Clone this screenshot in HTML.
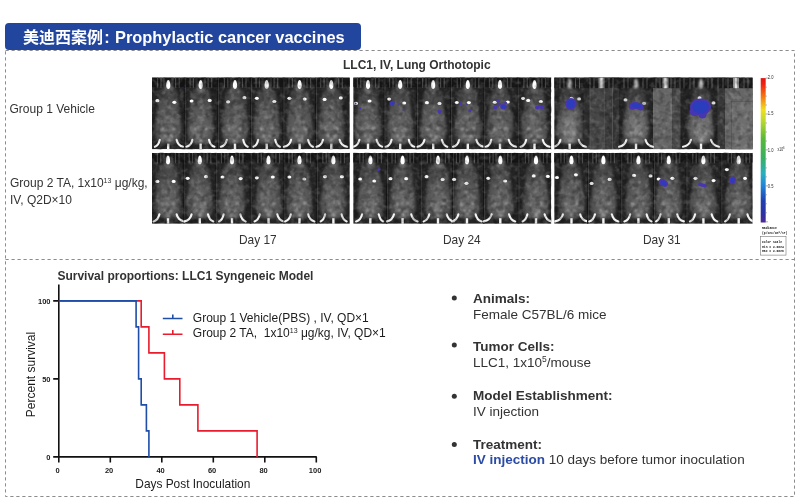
<!DOCTYPE html>
<html><head><meta charset="utf-8">
<style>
html,body{margin:0;padding:0;background:#fff;}
body{width:800px;height:497px;position:relative;overflow:hidden;font-family:"Liberation Sans","Noto Sans CJK SC",sans-serif;color:#333;}
.abs{position:absolute;white-space:nowrap;}
#hdr{position:absolute;left:5px;top:23px;width:355.5px;height:27.2px;background:#22459e;border-radius:4px 4px 4px 4px;color:#fff;font-weight:700;font-size:16px;line-height:27px;}
#hdr span{position:absolute;left:18px;top:0.6px;white-space:nowrap;}
.t12{font-size:12px;line-height:14px;}
.b{font-weight:700;}
.r{font-size:13.5px;line-height:16px;}
</style></head><body>
<svg class="abs" style="left:0;top:0" width="800" height="497" viewBox="0 0 800 497">
<g fill="none" stroke="#8c8c8c" stroke-width="1" stroke-dasharray="3.2 2.8">
<path d="M5.5 50.5H794.5V496.5H5.5Z"/>
<path d="M5.5 259.5H794.5"/>
</g>
</svg>
<div id="hdr"><span>美迪西案例<b style="font-size:16.4px;margin-left:1.2px">:</b><b style="font-size:16.4px;margin-left:.8px"> Prophylactic cancer vaccines</b></span></div>

<svg class="abs" style="left:0;top:0" width="800" height="260" viewBox="0 0 800 260">
<defs>
<filter id="b1" x="-20%" y="-20%" width="140%" height="140%"><feGaussianBlur stdDeviation="1.1"/></filter>
<filter id="b2" x="-50%" y="-50%" width="200%" height="200%"><feGaussianBlur stdDeviation="0.7"/></filter>
<filter id="b4" x="-50%" y="-50%" width="200%" height="200%"><feGaussianBlur stdDeviation="0.95"/></filter>
<filter id="b5" x="-50%" y="-50%" width="200%" height="200%"><feGaussianBlur stdDeviation="0.7"/></filter>
<filter id="b3" x="-50%" y="-50%" width="200%" height="200%"><feGaussianBlur stdDeviation="0.45"/></filter>
<filter id="bb" x="-50%" y="-50%" width="200%" height="200%"><feGaussianBlur stdDeviation="0.5"/></filter>
<filter id="nz" x="0" y="0" width="100%" height="100%"><feTurbulence type="fractalNoise" baseFrequency="0.2" numOctaves="2" seed="3"/><feColorMatrix type="matrix" values="0 0 0 0 1  0 0 0 0 1  0 0 0 0 1  3 0 0 0 -1.35"/></filter>
<filter id="nd" x="0" y="0" width="100%" height="100%"><feTurbulence type="fractalNoise" baseFrequency="0.17" numOctaves="2" seed="11"/><feColorMatrix type="matrix" values="0 0 0 0 0  0 0 0 0 0  0 0 0 0 0  0 3 0 0 -1.35"/></filter>
<radialGradient id="bg" cx="50%" cy="64%" r="58%" fx="50%" fy="74%"><stop offset="0" stop-color="#6a6a6a"/><stop offset="0.5" stop-color="#5a5a5a"/><stop offset="1" stop-color="#434343"/></radialGradient>
<linearGradient id="cb" x1="0" y1="0" x2="0" y2="1">
<stop offset="0" stop-color="#e01515"/><stop offset="0.04" stop-color="#f02010"/><stop offset="0.13" stop-color="#f47a10"/><stop offset="0.22" stop-color="#f0e020"/><stop offset="0.30" stop-color="#b8d830"/><stop offset="0.42" stop-color="#58b838"/><stop offset="0.55" stop-color="#38b060"/><stop offset="0.66" stop-color="#28b0c0"/><stop offset="0.74" stop-color="#2088d8"/><stop offset="0.85" stop-color="#2040b0"/><stop offset="0.95" stop-color="#3030a0"/><stop offset="1" stop-color="#502898"/>
</linearGradient>
<symbol id="m" viewBox="-16.5 0 33 72" overflow="visible">
<path d="M0 10.5C5.5 10.5 9 12.5 9.6 18C10.2 27 11.4 36 12.8 45C13.9 52 13.9 58 11.5 62.5C9 66.3 4 66.8 0 66.8C-4 66.8 -9 66.3 -11.5 62.5C-13.9 58 -13.9 52 -12.8 45C-11.4 36 -10.2 27 -9.6 18C-9 12.5 -5.5 10.5 0 10.5Z" fill="url(#bg)" filter="url(#b1)"/>
<ellipse cx="0" cy="10" rx="4.2" ry="6.2" fill="#808080" opacity=".5" filter="url(#b1)"/>
<path d="M0 2.6C1.4 2.6 2.1 6 2.1 8.4C2.1 10.4 1.2 11.6 0 11.6C-1.2 11.6 -2.1 10.4 -2.1 8.4C-2.1 6 -1.4 2.6 0 2.6Z" fill="#fff" filter="url(#b5)"/>
<g fill="#c4c4c4" filter="url(#b4)" opacity=".7"><circle cx="-5.5" cy="52" r="1.5"/><circle cx="5.5" cy="51.5" r="1.5"/><circle cx="-2.8" cy="58.5" r="1.3"/><circle cx="3" cy="59" r="1.3"/><circle cx="0.3" cy="63" r="1.8"/><circle cx="0.5" cy="30" r="1"/><circle cx="-1" cy="40" r="1"/></g>
</symbol>
<radialGradient id="bg2" cx="50%" cy="68%" r="56%" fx="50%" fy="76%"><stop offset="0" stop-color="#828282"/><stop offset="0.5" stop-color="#6a6a6a"/><stop offset="1" stop-color="#3c3c3c"/></radialGradient>
<symbol id="m2" viewBox="-16.5 0 33 72" overflow="visible">
<path d="M0 9.5C5.5 9.5 9 12.5 9.6 18C10.2 27 11.4 36 12.8 45C13.9 52 13.9 58 11.5 62.5C9 66.3 4 66.8 0 66.8C-4 66.8 -9 66.3 -11.5 62.5C-13.9 58 -13.9 52 -12.8 45C-11.4 36 -10.2 27 -9.6 18C-9 12.5 -5.5 9.5 0 9.5Z" fill="url(#bg2)" filter="url(#b1)"/>
<path d="M0 1C1.5 1 2.2 5 2.2 7.6C2.2 9.8 1.3 11 0 11C-1.3 11 -2.2 9.8 -2.2 7.6C-2.2 5 -1.5 1 0 1Z" fill="#d8d8d8" opacity=".85" filter="url(#b4)"/>
<g fill="#c4c4c4" filter="url(#b4)" opacity=".7"><circle cx="-4.5" cy="56" r="1.4"/><circle cx="4.5" cy="56.5" r="1.4"/><circle cx="0.3" cy="63" r="1.8"/></g>
</symbol>
</defs>
<clipPath id="c1"><rect x="152.0" y="77.4" width="197.8" height="71.8"/></clipPath><g clip-path="url(#c1)"><rect x="152.0" y="77.4" width="197.8" height="71.8" fill="#242424"/><rect x="152.0" y="77.4" width="32.4" height="9.5" fill="#161616"/><rect x="157.0" y="77.4" width="1.2" height="10.5" fill="#484848"/><rect x="160.4" y="77.4" width="1.2" height="10.5" fill="#484848"/><rect x="175.0" y="77.4" width="1.2" height="10.5" fill="#484848"/><rect x="178.6" y="77.4" width="1.2" height="10.5" fill="#484848"/><rect x="162.8" y="77.4" width="2.4" height="9.5" fill="#2c2c2c"/><rect x="171.2" y="77.4" width="2.4" height="9.5" fill="#2c2c2c"/><rect x="184.4" y="77.4" width="33.4" height="9.5" fill="#161616"/><rect x="189.5" y="77.4" width="1.2" height="10.5" fill="#484848"/><rect x="192.9" y="77.4" width="1.2" height="10.5" fill="#484848"/><rect x="207.5" y="77.4" width="1.2" height="10.5" fill="#484848"/><rect x="211.1" y="77.4" width="1.2" height="10.5" fill="#484848"/><rect x="195.3" y="77.4" width="2.4" height="9.5" fill="#2c2c2c"/><rect x="203.7" y="77.4" width="2.4" height="9.5" fill="#2c2c2c"/><rect x="217.8" y="77.4" width="33.0" height="9.5" fill="#161616"/><rect x="223.8" y="77.4" width="1.2" height="10.5" fill="#484848"/><rect x="227.2" y="77.4" width="1.2" height="10.5" fill="#484848"/><rect x="241.8" y="77.4" width="1.2" height="10.5" fill="#484848"/><rect x="245.4" y="77.4" width="1.2" height="10.5" fill="#484848"/><rect x="229.6" y="77.4" width="2.4" height="9.5" fill="#2c2c2c"/><rect x="238.0" y="77.4" width="2.4" height="9.5" fill="#2c2c2c"/><rect x="250.8" y="77.4" width="32.3" height="9.5" fill="#161616"/><rect x="255.5" y="77.4" width="1.2" height="10.5" fill="#484848"/><rect x="258.9" y="77.4" width="1.2" height="10.5" fill="#484848"/><rect x="273.5" y="77.4" width="1.2" height="10.5" fill="#484848"/><rect x="277.1" y="77.4" width="1.2" height="10.5" fill="#484848"/><rect x="261.3" y="77.4" width="2.4" height="9.5" fill="#2c2c2c"/><rect x="269.7" y="77.4" width="2.4" height="9.5" fill="#2c2c2c"/><rect x="283.1" y="77.4" width="32.3" height="9.5" fill="#161616"/><rect x="288.4" y="77.4" width="1.2" height="10.5" fill="#484848"/><rect x="291.8" y="77.4" width="1.2" height="10.5" fill="#484848"/><rect x="306.4" y="77.4" width="1.2" height="10.5" fill="#484848"/><rect x="310.0" y="77.4" width="1.2" height="10.5" fill="#484848"/><rect x="294.2" y="77.4" width="2.4" height="9.5" fill="#2c2c2c"/><rect x="302.6" y="77.4" width="2.4" height="9.5" fill="#2c2c2c"/><rect x="315.5" y="77.4" width="34.3" height="9.5" fill="#161616"/><rect x="320.1" y="77.4" width="1.2" height="10.5" fill="#484848"/><rect x="323.5" y="77.4" width="1.2" height="10.5" fill="#484848"/><rect x="338.1" y="77.4" width="1.2" height="10.5" fill="#484848"/><rect x="341.7" y="77.4" width="1.2" height="10.5" fill="#484848"/><rect x="325.9" y="77.4" width="2.4" height="9.5" fill="#2c2c2c"/><rect x="334.3" y="77.4" width="2.4" height="9.5" fill="#2c2c2c"/><use href="#m" x="150.0" y="77.4" width="36.5" height="71.8" preserveAspectRatio="none"/><ellipse cx="157.4" cy="100.7" rx="2.0" ry="1.6" fill="#fff" filter="url(#b2)"/><ellipse cx="174.3" cy="102.3" rx="2.0" ry="1.6" fill="#fff" filter="url(#b2)"/><path d="M159.8 139.7Q158.5 145.6 154.9 146.8" stroke="#f4f4f4" stroke-width="2.1" stroke-linecap="round" fill="none" filter="url(#b3)"/><path d="M176.6 139.7Q177.9 145.6 183.2 146.8" stroke="#f4f4f4" stroke-width="2.1" stroke-linecap="round" fill="none" filter="url(#b3)"/><rect x="167.0" y="143.6" width="2.4" height="6" fill="#f2f2f2" filter="url(#b3)"/><rect x="183.9" y="77.4" width="1" height="71.8" fill="#151515"/><rect x="184.9" y="77.4" width="0.7" height="71.8" fill="#444"/><use href="#m" x="182.8" y="77.4" width="35.8" height="71.8" preserveAspectRatio="none"/><ellipse cx="191.6" cy="101.0" rx="2.0" ry="1.6" fill="#fff" filter="url(#b2)"/><ellipse cx="209.7" cy="100.4" rx="2.0" ry="1.6" fill="#fff" filter="url(#b2)"/><path d="M192.4 139.7Q191.1 145.6 186.4 146.8" stroke="#f4f4f4" stroke-width="2.1" stroke-linecap="round" fill="none" filter="url(#b3)"/><path d="M209.0 139.7Q210.3 145.6 214.5 146.8" stroke="#f4f4f4" stroke-width="2.1" stroke-linecap="round" fill="none" filter="url(#b3)"/><rect x="199.5" y="143.6" width="2.4" height="6" fill="#f2f2f2" filter="url(#b3)"/><rect x="217.3" y="77.4" width="1" height="71.8" fill="#151515"/><rect x="218.3" y="77.4" width="0.7" height="71.8" fill="#444"/><use href="#m" x="217.1" y="77.4" width="35.8" height="71.8" preserveAspectRatio="none"/><ellipse cx="228.1" cy="101.8" rx="2.0" ry="1.6" fill="#fff" filter="url(#b2)"/><ellipse cx="244.4" cy="97.7" rx="2.0" ry="1.6" fill="#fff" filter="url(#b2)"/><path d="M226.8 139.7Q225.5 145.6 220.8 146.8" stroke="#f4f4f4" stroke-width="2.1" stroke-linecap="round" fill="none" filter="url(#b3)"/><path d="M243.2 139.7Q244.5 145.6 247.7 146.8" stroke="#f4f4f4" stroke-width="2.1" stroke-linecap="round" fill="none" filter="url(#b3)"/><rect x="233.8" y="143.6" width="2.4" height="6" fill="#f2f2f2" filter="url(#b3)"/><rect x="250.3" y="77.4" width="1" height="71.8" fill="#151515"/><rect x="251.3" y="77.4" width="0.7" height="71.8" fill="#444"/><use href="#m" x="248.3" y="77.4" width="36.8" height="71.8" preserveAspectRatio="none"/><ellipse cx="256.8" cy="98.3" rx="2.0" ry="1.6" fill="#fff" filter="url(#b2)"/><ellipse cx="274.4" cy="101.5" rx="2.0" ry="1.6" fill="#fff" filter="url(#b2)"/><path d="M258.2 139.7Q256.9 145.6 253.5 146.8" stroke="#f4f4f4" stroke-width="2.1" stroke-linecap="round" fill="none" filter="url(#b3)"/><path d="M275.2 139.7Q276.5 145.6 279.9 146.8" stroke="#f4f4f4" stroke-width="2.1" stroke-linecap="round" fill="none" filter="url(#b3)"/><rect x="265.5" y="143.6" width="2.4" height="6" fill="#f2f2f2" filter="url(#b3)"/><rect x="282.6" y="77.4" width="1" height="71.8" fill="#151515"/><rect x="283.6" y="77.4" width="0.7" height="71.8" fill="#444"/><use href="#m" x="281.2" y="77.4" width="36.8" height="71.8" preserveAspectRatio="none"/><ellipse cx="289.4" cy="98.3" rx="2.0" ry="1.6" fill="#fff" filter="url(#b2)"/><ellipse cx="304.7" cy="99.1" rx="2.0" ry="1.6" fill="#fff" filter="url(#b2)"/><path d="M291.1 139.7Q289.8 145.6 283.9 146.8" stroke="#f4f4f4" stroke-width="2.1" stroke-linecap="round" fill="none" filter="url(#b3)"/><path d="M308.1 139.7Q309.4 145.6 312.9 146.8" stroke="#f4f4f4" stroke-width="2.1" stroke-linecap="round" fill="none" filter="url(#b3)"/><rect x="298.4" y="143.6" width="2.4" height="6" fill="#f2f2f2" filter="url(#b3)"/><rect x="315.0" y="77.4" width="1" height="71.8" fill="#151515"/><rect x="316.0" y="77.4" width="0.7" height="71.8" fill="#444"/><use href="#m" x="313.2" y="77.4" width="36.2" height="71.8" preserveAspectRatio="none"/><ellipse cx="324.6" cy="99.4" rx="2.0" ry="1.6" fill="#fff" filter="url(#b2)"/><ellipse cx="340.8" cy="97.9" rx="2.0" ry="1.6" fill="#fff" filter="url(#b2)"/><path d="M323.0 139.7Q321.6 145.6 316.5 146.8" stroke="#f4f4f4" stroke-width="2.1" stroke-linecap="round" fill="none" filter="url(#b3)"/><path d="M339.6 139.7Q341.0 145.6 347.2 146.8" stroke="#f4f4f4" stroke-width="2.1" stroke-linecap="round" fill="none" filter="url(#b3)"/><rect x="330.1" y="143.6" width="2.4" height="6" fill="#f2f2f2" filter="url(#b3)"/></g><clipPath id="c2"><rect x="152.0" y="152.9" width="197.8" height="70.9"/></clipPath><g clip-path="url(#c2)"><rect x="152.0" y="152.9" width="197.8" height="70.9" fill="#242424"/><rect x="152.0" y="152.9" width="31.9" height="9.5" fill="#161616"/><rect x="156.8" y="152.9" width="1.2" height="10.5" fill="#484848"/><rect x="160.2" y="152.9" width="1.2" height="10.5" fill="#484848"/><rect x="174.8" y="152.9" width="1.2" height="10.5" fill="#484848"/><rect x="178.4" y="152.9" width="1.2" height="10.5" fill="#484848"/><rect x="162.6" y="152.9" width="2.4" height="9.5" fill="#2c2c2c"/><rect x="171.0" y="152.9" width="2.4" height="9.5" fill="#2c2c2c"/><rect x="183.9" y="152.9" width="32.0" height="9.5" fill="#161616"/><rect x="188.6" y="152.9" width="1.2" height="10.5" fill="#484848"/><rect x="192.0" y="152.9" width="1.2" height="10.5" fill="#484848"/><rect x="206.6" y="152.9" width="1.2" height="10.5" fill="#484848"/><rect x="210.2" y="152.9" width="1.2" height="10.5" fill="#484848"/><rect x="194.4" y="152.9" width="2.4" height="9.5" fill="#2c2c2c"/><rect x="202.8" y="152.9" width="2.4" height="9.5" fill="#2c2c2c"/><rect x="215.9" y="152.9" width="34.3" height="9.5" fill="#161616"/><rect x="220.8" y="152.9" width="1.2" height="10.5" fill="#484848"/><rect x="224.2" y="152.9" width="1.2" height="10.5" fill="#484848"/><rect x="238.8" y="152.9" width="1.2" height="10.5" fill="#484848"/><rect x="242.4" y="152.9" width="1.2" height="10.5" fill="#484848"/><rect x="226.6" y="152.9" width="2.4" height="9.5" fill="#2c2c2c"/><rect x="235.0" y="152.9" width="2.4" height="9.5" fill="#2c2c2c"/><rect x="250.2" y="152.9" width="33.8" height="9.5" fill="#161616"/><rect x="257.3" y="152.9" width="1.2" height="10.5" fill="#484848"/><rect x="260.7" y="152.9" width="1.2" height="10.5" fill="#484848"/><rect x="275.3" y="152.9" width="1.2" height="10.5" fill="#484848"/><rect x="278.9" y="152.9" width="1.2" height="10.5" fill="#484848"/><rect x="263.1" y="152.9" width="2.4" height="9.5" fill="#2c2c2c"/><rect x="271.5" y="152.9" width="2.4" height="9.5" fill="#2c2c2c"/><rect x="284.0" y="152.9" width="32.4" height="9.5" fill="#161616"/><rect x="288.3" y="152.9" width="1.2" height="10.5" fill="#484848"/><rect x="291.7" y="152.9" width="1.2" height="10.5" fill="#484848"/><rect x="306.3" y="152.9" width="1.2" height="10.5" fill="#484848"/><rect x="309.9" y="152.9" width="1.2" height="10.5" fill="#484848"/><rect x="294.1" y="152.9" width="2.4" height="9.5" fill="#2c2c2c"/><rect x="302.5" y="152.9" width="2.4" height="9.5" fill="#2c2c2c"/><rect x="316.4" y="152.9" width="33.4" height="9.5" fill="#161616"/><rect x="322.2" y="152.9" width="1.2" height="10.5" fill="#484848"/><rect x="325.6" y="152.9" width="1.2" height="10.5" fill="#484848"/><rect x="340.2" y="152.9" width="1.2" height="10.5" fill="#484848"/><rect x="343.8" y="152.9" width="1.2" height="10.5" fill="#484848"/><rect x="328.0" y="152.9" width="2.4" height="9.5" fill="#2c2c2c"/><rect x="336.4" y="152.9" width="2.4" height="9.5" fill="#2c2c2c"/><use href="#m" x="149.4" y="152.9" width="37.2" height="70.9" preserveAspectRatio="none"/><ellipse cx="157.4" cy="181.4" rx="2.0" ry="1.6" fill="#fff" filter="url(#b2)"/><ellipse cx="173.7" cy="181.4" rx="2.0" ry="1.6" fill="#fff" filter="url(#b2)"/><path d="M159.4 214.3Q158.1 220.2 153.6 221.4" stroke="#f4f4f4" stroke-width="2.1" stroke-linecap="round" fill="none" filter="url(#b3)"/><path d="M176.6 214.3Q177.9 220.2 184.4 221.4" stroke="#f4f4f4" stroke-width="2.1" stroke-linecap="round" fill="none" filter="url(#b3)"/><rect x="166.8" y="218.2" width="2.4" height="6" fill="#f2f2f2" filter="url(#b3)"/><rect x="183.4" y="152.9" width="1" height="70.9" fill="#151515"/><rect x="184.4" y="152.9" width="0.7" height="70.9" fill="#444"/><use href="#m" x="181.9" y="152.9" width="35.8" height="70.9" preserveAspectRatio="none"/><ellipse cx="187.7" cy="178.3" rx="2.0" ry="1.6" fill="#fff" filter="url(#b2)"/><ellipse cx="206.0" cy="176.7" rx="2.0" ry="1.6" fill="#fff" filter="url(#b2)"/><path d="M191.6 214.3Q190.3 220.2 184.4 221.4" stroke="#f4f4f4" stroke-width="2.1" stroke-linecap="round" fill="none" filter="url(#b3)"/><path d="M208.0 214.3Q209.3 220.2 213.3 221.4" stroke="#f4f4f4" stroke-width="2.1" stroke-linecap="round" fill="none" filter="url(#b3)"/><rect x="198.6" y="218.2" width="2.4" height="6" fill="#f2f2f2" filter="url(#b3)"/><rect x="215.4" y="152.9" width="1" height="70.9" fill="#151515"/><rect x="216.4" y="152.9" width="0.7" height="70.9" fill="#444"/><use href="#m" x="214.0" y="152.9" width="36.0" height="70.9" preserveAspectRatio="none"/><ellipse cx="222.5" cy="177.0" rx="2.0" ry="1.6" fill="#fff" filter="url(#b2)"/><ellipse cx="240.7" cy="178.6" rx="2.0" ry="1.6" fill="#fff" filter="url(#b2)"/><path d="M223.7 214.3Q222.4 220.2 219.0 221.4" stroke="#f4f4f4" stroke-width="2.1" stroke-linecap="round" fill="none" filter="url(#b3)"/><path d="M240.3 214.3Q241.6 220.2 245.7 221.4" stroke="#f4f4f4" stroke-width="2.1" stroke-linecap="round" fill="none" filter="url(#b3)"/><rect x="230.8" y="218.2" width="2.4" height="6" fill="#f2f2f2" filter="url(#b3)"/><rect x="249.8" y="152.9" width="1" height="70.9" fill="#151515"/><rect x="250.8" y="152.9" width="0.7" height="70.9" fill="#444"/><use href="#m" x="249.6" y="152.9" width="37.8" height="70.9" preserveAspectRatio="none"/><ellipse cx="256.8" cy="177.8" rx="2.0" ry="1.6" fill="#fff" filter="url(#b2)"/><ellipse cx="272.8" cy="177.0" rx="2.0" ry="1.6" fill="#fff" filter="url(#b2)"/><path d="M259.8 214.3Q258.4 220.2 254.6 221.4" stroke="#f4f4f4" stroke-width="2.1" stroke-linecap="round" fill="none" filter="url(#b3)"/><path d="M277.2 214.3Q278.6 220.2 283.8 221.4" stroke="#f4f4f4" stroke-width="2.1" stroke-linecap="round" fill="none" filter="url(#b3)"/><rect x="267.3" y="218.2" width="2.4" height="6" fill="#f2f2f2" filter="url(#b3)"/><rect x="283.5" y="152.9" width="1" height="70.9" fill="#151515"/><rect x="284.5" y="152.9" width="0.7" height="70.9" fill="#444"/><use href="#m" x="280.8" y="152.9" width="37.3" height="70.9" preserveAspectRatio="none"/><ellipse cx="289.4" cy="177.0" rx="2.0" ry="1.6" fill="#fff" filter="url(#b2)"/><ellipse cx="304.3" cy="179.0" rx="2.0" ry="1.6" fill="#fff" filter="url(#b2)"/><path d="M290.9 214.3Q289.5 220.2 285.1 221.4" stroke="#f4f4f4" stroke-width="2.1" stroke-linecap="round" fill="none" filter="url(#b3)"/><path d="M308.1 214.3Q309.5 220.2 314.5 221.4" stroke="#f4f4f4" stroke-width="2.1" stroke-linecap="round" fill="none" filter="url(#b3)"/><rect x="298.3" y="218.2" width="2.4" height="6" fill="#f2f2f2" filter="url(#b3)"/><rect x="315.9" y="152.9" width="1" height="70.9" fill="#151515"/><rect x="316.9" y="152.9" width="0.7" height="70.9" fill="#444"/><use href="#m" x="315.5" y="152.9" width="35.8" height="70.9" preserveAspectRatio="none"/><ellipse cx="325.0" cy="176.7" rx="2.0" ry="1.6" fill="#fff" filter="url(#b2)"/><ellipse cx="341.9" cy="176.7" rx="2.0" ry="1.6" fill="#fff" filter="url(#b2)"/><path d="M325.2 214.3Q323.9 220.2 320.6 221.4" stroke="#f4f4f4" stroke-width="2.1" stroke-linecap="round" fill="none" filter="url(#b3)"/><path d="M341.6 214.3Q342.9 220.2 346.7 221.4" stroke="#f4f4f4" stroke-width="2.1" stroke-linecap="round" fill="none" filter="url(#b3)"/><rect x="332.2" y="218.2" width="2.4" height="6" fill="#f2f2f2" filter="url(#b3)"/></g><clipPath id="c3"><rect x="353.2" y="77.4" width="198.0" height="71.8"/></clipPath><g clip-path="url(#c3)"><rect x="353.2" y="77.4" width="198.0" height="71.8" fill="#242424"/><rect x="353.2" y="77.4" width="30.9" height="9.5" fill="#161616"/><rect x="356.8" y="77.4" width="1.2" height="10.5" fill="#484848"/><rect x="360.2" y="77.4" width="1.2" height="10.5" fill="#484848"/><rect x="374.8" y="77.4" width="1.2" height="10.5" fill="#484848"/><rect x="378.4" y="77.4" width="1.2" height="10.5" fill="#484848"/><rect x="362.6" y="77.4" width="2.4" height="9.5" fill="#2c2c2c"/><rect x="371.0" y="77.4" width="2.4" height="9.5" fill="#2c2c2c"/><rect x="384.1" y="77.4" width="32.6" height="9.5" fill="#161616"/><rect x="389.0" y="77.4" width="1.2" height="10.5" fill="#484848"/><rect x="392.4" y="77.4" width="1.2" height="10.5" fill="#484848"/><rect x="407.0" y="77.4" width="1.2" height="10.5" fill="#484848"/><rect x="410.6" y="77.4" width="1.2" height="10.5" fill="#484848"/><rect x="394.8" y="77.4" width="2.4" height="9.5" fill="#2c2c2c"/><rect x="403.2" y="77.4" width="2.4" height="9.5" fill="#2c2c2c"/><rect x="416.7" y="77.4" width="33.8" height="9.5" fill="#161616"/><rect x="422.0" y="77.4" width="1.2" height="10.5" fill="#484848"/><rect x="425.4" y="77.4" width="1.2" height="10.5" fill="#484848"/><rect x="440.0" y="77.4" width="1.2" height="10.5" fill="#484848"/><rect x="443.6" y="77.4" width="1.2" height="10.5" fill="#484848"/><rect x="427.8" y="77.4" width="2.4" height="9.5" fill="#2c2c2c"/><rect x="436.2" y="77.4" width="2.4" height="9.5" fill="#2c2c2c"/><rect x="450.5" y="77.4" width="33.4" height="9.5" fill="#161616"/><rect x="456.6" y="77.4" width="1.2" height="10.5" fill="#484848"/><rect x="460.0" y="77.4" width="1.2" height="10.5" fill="#484848"/><rect x="474.6" y="77.4" width="1.2" height="10.5" fill="#484848"/><rect x="478.2" y="77.4" width="1.2" height="10.5" fill="#484848"/><rect x="462.4" y="77.4" width="2.4" height="9.5" fill="#2c2c2c"/><rect x="470.8" y="77.4" width="2.4" height="9.5" fill="#2c2c2c"/><rect x="483.9" y="77.4" width="33.4" height="9.5" fill="#161616"/><rect x="488.8" y="77.4" width="1.2" height="10.5" fill="#484848"/><rect x="492.2" y="77.4" width="1.2" height="10.5" fill="#484848"/><rect x="506.8" y="77.4" width="1.2" height="10.5" fill="#484848"/><rect x="510.4" y="77.4" width="1.2" height="10.5" fill="#484848"/><rect x="494.6" y="77.4" width="2.4" height="9.5" fill="#2c2c2c"/><rect x="503.0" y="77.4" width="2.4" height="9.5" fill="#2c2c2c"/><rect x="517.2" y="77.4" width="34.0" height="9.5" fill="#161616"/><rect x="523.3" y="77.4" width="1.2" height="10.5" fill="#484848"/><rect x="526.7" y="77.4" width="1.2" height="10.5" fill="#484848"/><rect x="541.3" y="77.4" width="1.2" height="10.5" fill="#484848"/><rect x="544.9" y="77.4" width="1.2" height="10.5" fill="#484848"/><rect x="529.1" y="77.4" width="2.4" height="9.5" fill="#2c2c2c"/><rect x="537.5" y="77.4" width="2.4" height="9.5" fill="#2c2c2c"/><use href="#m" x="349.3" y="77.4" width="37.4" height="71.8" preserveAspectRatio="none"/><ellipse cx="356.0" cy="103.4" rx="2.0" ry="1.6" fill="#fff" filter="url(#b2)"/><ellipse cx="369.6" cy="101.0" rx="2.0" ry="1.6" fill="#fff" filter="url(#b2)"/><path d="M359.4 139.7Q358.0 145.6 353.4 146.8" stroke="#f4f4f4" stroke-width="2.1" stroke-linecap="round" fill="none" filter="url(#b3)"/><path d="M376.6 139.7Q378.0 145.6 382.2 146.8" stroke="#f4f4f4" stroke-width="2.1" stroke-linecap="round" fill="none" filter="url(#b3)"/><rect x="366.8" y="143.6" width="2.4" height="6" fill="#f2f2f2" filter="url(#b3)"/><rect x="383.6" y="77.4" width="1" height="71.8" fill="#151515"/><rect x="384.6" y="77.4" width="0.7" height="71.8" fill="#444"/><use href="#m" x="381.6" y="77.4" width="37.2" height="71.8" preserveAspectRatio="none"/><ellipse cx="389.2" cy="99.1" rx="2.0" ry="1.6" fill="#fff" filter="url(#b2)"/><ellipse cx="404.2" cy="103.0" rx="2.0" ry="1.6" fill="#fff" filter="url(#b2)"/><path d="M391.6 139.7Q390.3 145.6 385.6 146.8" stroke="#f4f4f4" stroke-width="2.1" stroke-linecap="round" fill="none" filter="url(#b3)"/><path d="M408.8 139.7Q410.1 145.6 414.3 146.8" stroke="#f4f4f4" stroke-width="2.1" stroke-linecap="round" fill="none" filter="url(#b3)"/><rect x="399.0" y="143.6" width="2.4" height="6" fill="#f2f2f2" filter="url(#b3)"/><rect x="416.2" y="77.4" width="1" height="71.8" fill="#151515"/><rect x="417.2" y="77.4" width="0.7" height="71.8" fill="#444"/><use href="#m" x="414.3" y="77.4" width="37.7" height="71.8" preserveAspectRatio="none"/><ellipse cx="426.9" cy="102.7" rx="2.0" ry="1.6" fill="#fff" filter="url(#b2)"/><ellipse cx="439.5" cy="103.4" rx="2.0" ry="1.6" fill="#fff" filter="url(#b2)"/><path d="M424.5 139.7Q423.1 145.6 417.5 146.8" stroke="#f4f4f4" stroke-width="2.1" stroke-linecap="round" fill="none" filter="url(#b3)"/><path d="M441.9 139.7Q443.3 145.6 447.3 146.8" stroke="#f4f4f4" stroke-width="2.1" stroke-linecap="round" fill="none" filter="url(#b3)"/><rect x="432.0" y="143.6" width="2.4" height="6" fill="#f2f2f2" filter="url(#b3)"/><rect x="450.0" y="77.4" width="1" height="71.8" fill="#151515"/><rect x="451.0" y="77.4" width="0.7" height="71.8" fill="#444"/><use href="#m" x="449.2" y="77.4" width="37.2" height="71.8" preserveAspectRatio="none"/><ellipse cx="456.8" cy="102.6" rx="2.0" ry="1.6" fill="#fff" filter="url(#b2)"/><ellipse cx="468.9" cy="102.6" rx="2.0" ry="1.6" fill="#fff" filter="url(#b2)"/><path d="M459.2 139.7Q457.9 145.6 453.0 146.8" stroke="#f4f4f4" stroke-width="2.1" stroke-linecap="round" fill="none" filter="url(#b3)"/><path d="M476.4 139.7Q477.7 145.6 483.8 146.8" stroke="#f4f4f4" stroke-width="2.1" stroke-linecap="round" fill="none" filter="url(#b3)"/><rect x="466.6" y="143.6" width="2.4" height="6" fill="#f2f2f2" filter="url(#b3)"/><rect x="483.4" y="77.4" width="1" height="71.8" fill="#151515"/><rect x="484.4" y="77.4" width="0.7" height="71.8" fill="#444"/><use href="#m" x="481.2" y="77.4" width="37.6" height="71.8" preserveAspectRatio="none"/><ellipse cx="494.8" cy="102.3" rx="2.0" ry="1.6" fill="#fff" filter="url(#b2)"/><ellipse cx="507.8" cy="102.0" rx="2.0" ry="1.6" fill="#fff" filter="url(#b2)"/><path d="M491.3 139.7Q490.0 145.6 485.8 146.8" stroke="#f4f4f4" stroke-width="2.1" stroke-linecap="round" fill="none" filter="url(#b3)"/><path d="M508.7 139.7Q510.0 145.6 516.6 146.8" stroke="#f4f4f4" stroke-width="2.1" stroke-linecap="round" fill="none" filter="url(#b3)"/><rect x="498.8" y="143.6" width="2.4" height="6" fill="#f2f2f2" filter="url(#b3)"/><rect x="516.8" y="77.4" width="1" height="71.8" fill="#151515"/><rect x="517.8" y="77.4" width="0.7" height="71.8" fill="#444"/><use href="#m" x="516.5" y="77.4" width="36.0" height="71.8" preserveAspectRatio="none"/><ellipse cx="528.2" cy="100.4" rx="2.0" ry="1.6" fill="#fff" filter="url(#b2)"/><ellipse cx="540.8" cy="101.5" rx="2.0" ry="1.6" fill="#fff" filter="url(#b2)"/><ellipse cx="523.0" cy="98.3" rx="2.0" ry="1.6" fill="#fff" filter="url(#b2)"/><path d="M526.2 139.7Q524.9 145.6 520.5 146.8" stroke="#f4f4f4" stroke-width="2.1" stroke-linecap="round" fill="none" filter="url(#b3)"/><path d="M542.8 139.7Q544.1 145.6 549.6 146.8" stroke="#f4f4f4" stroke-width="2.1" stroke-linecap="round" fill="none" filter="url(#b3)"/><rect x="533.3" y="143.6" width="2.4" height="6" fill="#f2f2f2" filter="url(#b3)"/></g><clipPath id="c4"><rect x="353.2" y="152.9" width="198.0" height="70.9"/></clipPath><g clip-path="url(#c4)"><rect x="353.2" y="152.9" width="198.0" height="70.9" fill="#242424"/><rect x="353.2" y="152.9" width="33.3" height="9.5" fill="#161616"/><rect x="359.2" y="152.9" width="1.2" height="10.5" fill="#484848"/><rect x="362.6" y="152.9" width="1.2" height="10.5" fill="#484848"/><rect x="377.2" y="152.9" width="1.2" height="10.5" fill="#484848"/><rect x="380.8" y="152.9" width="1.2" height="10.5" fill="#484848"/><rect x="365.0" y="152.9" width="2.4" height="9.5" fill="#2c2c2c"/><rect x="373.4" y="152.9" width="2.4" height="9.5" fill="#2c2c2c"/><rect x="386.5" y="152.9" width="33.8" height="9.5" fill="#161616"/><rect x="391.4" y="152.9" width="1.2" height="10.5" fill="#484848"/><rect x="394.8" y="152.9" width="1.2" height="10.5" fill="#484848"/><rect x="409.4" y="152.9" width="1.2" height="10.5" fill="#484848"/><rect x="413.0" y="152.9" width="1.2" height="10.5" fill="#484848"/><rect x="397.2" y="152.9" width="2.4" height="9.5" fill="#2c2c2c"/><rect x="405.6" y="152.9" width="2.4" height="9.5" fill="#2c2c2c"/><rect x="420.3" y="152.9" width="32.2" height="9.5" fill="#161616"/><rect x="426.8" y="152.9" width="1.2" height="10.5" fill="#484848"/><rect x="430.2" y="152.9" width="1.2" height="10.5" fill="#484848"/><rect x="444.8" y="152.9" width="1.2" height="10.5" fill="#484848"/><rect x="448.4" y="152.9" width="1.2" height="10.5" fill="#484848"/><rect x="432.6" y="152.9" width="2.4" height="9.5" fill="#2c2c2c"/><rect x="441.0" y="152.9" width="2.4" height="9.5" fill="#2c2c2c"/><rect x="452.5" y="152.9" width="31.1" height="9.5" fill="#161616"/><rect x="455.8" y="152.9" width="1.2" height="10.5" fill="#484848"/><rect x="459.2" y="152.9" width="1.2" height="10.5" fill="#484848"/><rect x="473.8" y="152.9" width="1.2" height="10.5" fill="#484848"/><rect x="477.4" y="152.9" width="1.2" height="10.5" fill="#484848"/><rect x="461.6" y="152.9" width="2.4" height="9.5" fill="#2c2c2c"/><rect x="470.0" y="152.9" width="2.4" height="9.5" fill="#2c2c2c"/><rect x="483.6" y="152.9" width="34.5" height="9.5" fill="#161616"/><rect x="489.1" y="152.9" width="1.2" height="10.5" fill="#484848"/><rect x="492.5" y="152.9" width="1.2" height="10.5" fill="#484848"/><rect x="507.1" y="152.9" width="1.2" height="10.5" fill="#484848"/><rect x="510.7" y="152.9" width="1.2" height="10.5" fill="#484848"/><rect x="494.9" y="152.9" width="2.4" height="9.5" fill="#2c2c2c"/><rect x="503.3" y="152.9" width="2.4" height="9.5" fill="#2c2c2c"/><rect x="518.1" y="152.9" width="33.1" height="9.5" fill="#161616"/><rect x="524.8" y="152.9" width="1.2" height="10.5" fill="#484848"/><rect x="528.2" y="152.9" width="1.2" height="10.5" fill="#484848"/><rect x="542.8" y="152.9" width="1.2" height="10.5" fill="#484848"/><rect x="546.4" y="152.9" width="1.2" height="10.5" fill="#484848"/><rect x="530.6" y="152.9" width="2.4" height="9.5" fill="#2c2c2c"/><rect x="539.0" y="152.9" width="2.4" height="9.5" fill="#2c2c2c"/><use href="#m" x="352.4" y="152.9" width="36.0" height="70.9" preserveAspectRatio="none"/><ellipse cx="360.2" cy="179.0" rx="2.0" ry="1.6" fill="#fff" filter="url(#b2)"/><ellipse cx="374.3" cy="181.0" rx="2.0" ry="1.6" fill="#fff" filter="url(#b2)"/><path d="M362.1 214.3Q360.8 220.2 356.1 221.4" stroke="#f4f4f4" stroke-width="2.1" stroke-linecap="round" fill="none" filter="url(#b3)"/><path d="M378.7 214.3Q380.0 220.2 383.2 221.4" stroke="#f4f4f4" stroke-width="2.1" stroke-linecap="round" fill="none" filter="url(#b3)"/><rect x="369.2" y="218.2" width="2.4" height="6" fill="#f2f2f2" filter="url(#b3)"/><rect x="386.0" y="152.9" width="1" height="70.9" fill="#151515"/><rect x="387.0" y="152.9" width="0.7" height="70.9" fill="#444"/><use href="#m" x="383.9" y="152.9" width="37.4" height="70.9" preserveAspectRatio="none"/><ellipse cx="390.5" cy="178.7" rx="2.0" ry="1.6" fill="#fff" filter="url(#b2)"/><ellipse cx="406.2" cy="178.7" rx="2.0" ry="1.6" fill="#fff" filter="url(#b2)"/><path d="M394.0 214.3Q392.6 220.2 386.9 221.4" stroke="#f4f4f4" stroke-width="2.1" stroke-linecap="round" fill="none" filter="url(#b3)"/><path d="M411.2 214.3Q412.6 220.2 417.7 221.4" stroke="#f4f4f4" stroke-width="2.1" stroke-linecap="round" fill="none" filter="url(#b3)"/><rect x="401.4" y="218.2" width="2.4" height="6" fill="#f2f2f2" filter="url(#b3)"/><rect x="419.8" y="152.9" width="1" height="70.9" fill="#151515"/><rect x="420.8" y="152.9" width="0.7" height="70.9" fill="#444"/><use href="#m" x="419.0" y="152.9" width="38.0" height="70.9" preserveAspectRatio="none"/><ellipse cx="426.5" cy="176.7" rx="2.0" ry="1.6" fill="#fff" filter="url(#b2)"/><ellipse cx="442.6" cy="179.4" rx="2.0" ry="1.6" fill="#fff" filter="url(#b2)"/><path d="M429.3 214.3Q427.9 220.2 423.6 221.4" stroke="#f4f4f4" stroke-width="2.1" stroke-linecap="round" fill="none" filter="url(#b3)"/><path d="M446.7 214.3Q448.1 220.2 453.7 221.4" stroke="#f4f4f4" stroke-width="2.1" stroke-linecap="round" fill="none" filter="url(#b3)"/><rect x="436.8" y="218.2" width="2.4" height="6" fill="#f2f2f2" filter="url(#b3)"/><rect x="452.0" y="152.9" width="1" height="70.9" fill="#151515"/><rect x="453.0" y="152.9" width="0.7" height="70.9" fill="#444"/><use href="#m" x="448.4" y="152.9" width="37.2" height="70.9" preserveAspectRatio="none"/><ellipse cx="454.1" cy="179.4" rx="2.0" ry="1.6" fill="#fff" filter="url(#b2)"/><ellipse cx="466.5" cy="183.3" rx="2.0" ry="1.6" fill="#fff" filter="url(#b2)"/><path d="M458.4 214.3Q457.1 220.2 452.0 221.4" stroke="#f4f4f4" stroke-width="2.1" stroke-linecap="round" fill="none" filter="url(#b3)"/><path d="M475.6 214.3Q476.9 220.2 481.6 221.4" stroke="#f4f4f4" stroke-width="2.1" stroke-linecap="round" fill="none" filter="url(#b3)"/><rect x="465.8" y="218.2" width="2.4" height="6" fill="#f2f2f2" filter="url(#b3)"/><rect x="483.1" y="152.9" width="1" height="70.9" fill="#151515"/><rect x="484.1" y="152.9" width="0.7" height="70.9" fill="#444"/><use href="#m" x="481.4" y="152.9" width="37.9" height="70.9" preserveAspectRatio="none"/><ellipse cx="488.2" cy="178.3" rx="2.0" ry="1.6" fill="#fff" filter="url(#b2)"/><ellipse cx="505.1" cy="181.0" rx="2.0" ry="1.6" fill="#fff" filter="url(#b2)"/><path d="M491.6 214.3Q490.2 220.2 483.7 221.4" stroke="#f4f4f4" stroke-width="2.1" stroke-linecap="round" fill="none" filter="url(#b3)"/><path d="M509.0 214.3Q510.4 220.2 515.2 221.4" stroke="#f4f4f4" stroke-width="2.1" stroke-linecap="round" fill="none" filter="url(#b3)"/><rect x="499.1" y="218.2" width="2.4" height="6" fill="#f2f2f2" filter="url(#b3)"/><rect x="517.6" y="152.9" width="1" height="70.9" fill="#151515"/><rect x="518.6" y="152.9" width="0.7" height="70.9" fill="#444"/><use href="#m" x="517.3" y="152.9" width="37.4" height="70.9" preserveAspectRatio="none"/><ellipse cx="533.7" cy="175.9" rx="2.0" ry="1.6" fill="#fff" filter="url(#b2)"/><ellipse cx="547.8" cy="176.4" rx="2.0" ry="1.6" fill="#fff" filter="url(#b2)"/><path d="M527.4 214.3Q526.0 220.2 522.6 221.4" stroke="#f4f4f4" stroke-width="2.1" stroke-linecap="round" fill="none" filter="url(#b3)"/><path d="M544.6 214.3Q546.0 220.2 551.5 221.4" stroke="#f4f4f4" stroke-width="2.1" stroke-linecap="round" fill="none" filter="url(#b3)"/><rect x="534.8" y="218.2" width="2.4" height="6" fill="#f2f2f2" filter="url(#b3)"/></g><clipPath id="c5"><rect x="554.2" y="77.4" width="198.5" height="71.8"/></clipPath><g clip-path="url(#c5)"><rect x="554.2" y="77.4" width="198.5" height="71.8" fill="#242424"/><rect x="584" y="77.4" width="35" height="71.8" fill="#2e2e2e"/><rect x="590" y="87.4" width="14" height="71.8" fill="#464646"/><rect x="604.5" y="87.4" width="8" height="71.8" fill="#3c3c3c"/><rect x="613" y="87.4" width="6" height="71.8" fill="#343434"/><rect x="589.6" y="87.4" width="0.8" height="71.8" fill="#5a5a5a"/><rect x="603.9" y="87.4" width="0.8" height="71.8" fill="#5a5a5a"/><rect x="612.2" y="87.4" width="0.8" height="71.8" fill="#5a5a5a"/><rect x="653" y="77.4" width="19.5" height="71.8" fill="#666"/><rect x="672.5" y="77.4" width="8" height="71.8" fill="#4a4a4a"/><rect x="717.5" y="77.4" width="8" height="71.8" fill="#383838"/><rect x="725" y="87.4" width="28" height="71.8" fill="#666"/><rect x="731.5" y="101.4" width="22" height="71.8" fill="#6e6e6e" stroke="#565656" stroke-width="0.7"/><rect x="554.2" y="77.4" width="198.5" height="10.8" fill="#1a1a1a"/><rect x="559.5" y="77.4" width="1" height="11" fill="#555"/><rect x="563.5" y="77.4" width="1" height="11" fill="#555"/><rect x="575.0" y="77.4" width="1" height="11" fill="#555"/><rect x="579.0" y="77.4" width="1" height="11" fill="#555"/><rect x="589.5" y="77.4" width="1" height="11" fill="#555"/><rect x="593.5" y="77.4" width="1" height="11" fill="#555"/><rect x="608.5" y="77.4" width="1" height="11" fill="#555"/><rect x="612.5" y="77.4" width="1" height="11" fill="#555"/><rect x="623.5" y="77.4" width="1" height="11" fill="#555"/><rect x="627.5" y="77.4" width="1" height="11" fill="#555"/><rect x="642.5" y="77.4" width="1" height="11" fill="#555"/><rect x="646.5" y="77.4" width="1" height="11" fill="#555"/><rect x="655.5" y="77.4" width="1" height="11" fill="#555"/><rect x="659.5" y="77.4" width="1" height="11" fill="#555"/><rect x="670.5" y="77.4" width="1" height="11" fill="#555"/><rect x="674.5" y="77.4" width="1" height="11" fill="#555"/><rect x="679.5" y="77.4" width="1" height="11" fill="#555"/><rect x="683.5" y="77.4" width="1" height="11" fill="#555"/><rect x="689.5" y="77.4" width="1" height="11" fill="#555"/><rect x="693.5" y="77.4" width="1" height="11" fill="#555"/><rect x="707.5" y="77.4" width="1" height="11" fill="#555"/><rect x="711.5" y="77.4" width="1" height="11" fill="#555"/><rect x="717.5" y="77.4" width="1" height="11" fill="#555"/><rect x="722.5" y="77.4" width="1" height="11" fill="#555"/><rect x="727.5" y="77.4" width="1" height="11" fill="#555"/><rect x="743.5" y="77.4" width="1" height="11" fill="#555"/><rect x="747.5" y="77.4" width="1" height="11" fill="#555"/><rect x="598.5" y="77.4" width="6" height="10.8" fill="#8a8a8a" filter="url(#b3)"/><rect x="600.3" y="77.4" width="2.4" height="10.8" fill="#e0e0e0" filter="url(#b3)"/><rect x="662.5" y="77.4" width="6" height="10.8" fill="#8a8a8a" filter="url(#b3)"/><rect x="664.3" y="77.4" width="2.4" height="10.8" fill="#e0e0e0" filter="url(#b3)"/><rect x="733.0" y="77.4" width="6" height="10.8" fill="#8a8a8a" filter="url(#b3)"/><rect x="734.8" y="77.4" width="2.4" height="10.8" fill="#e0e0e0" filter="url(#b3)"/><use href="#m2" x="549.8" y="77.4" width="39.6" height="71.8" preserveAspectRatio="none"/><ellipse cx="571.6" cy="98.4" rx="2.0" ry="1.6" fill="#ddd" filter="url(#b2)"/><ellipse cx="579.1" cy="98.9" rx="2.0" ry="1.6" fill="#ddd" filter="url(#b2)"/><path d="M560.5 139.7Q559.0 145.6 553.3 146.8" stroke="#f4f4f4" stroke-width="2.1" stroke-linecap="round" fill="none" filter="url(#b3)"/><path d="M578.7 139.7Q580.2 145.6 585.9 146.8" stroke="#f4f4f4" stroke-width="2.1" stroke-linecap="round" fill="none" filter="url(#b3)"/><rect x="568.4" y="143.6" width="2.4" height="6" fill="#f2f2f2" filter="url(#b3)"/><use href="#m2" x="615.4" y="77.4" width="41.2" height="71.8" preserveAspectRatio="none"/><ellipse cx="625.5" cy="99.9" rx="2.0" ry="1.6" fill="#ddd" filter="url(#b2)"/><ellipse cx="644.0" cy="103.4" rx="2.0" ry="1.6" fill="#ddd" filter="url(#b2)"/><path d="M626.5 139.7Q625.0 145.6 619.0 146.8" stroke="#f4f4f4" stroke-width="2.1" stroke-linecap="round" fill="none" filter="url(#b3)"/><path d="M645.5 139.7Q647.0 145.6 653.0 146.8" stroke="#f4f4f4" stroke-width="2.1" stroke-linecap="round" fill="none" filter="url(#b3)"/><rect x="634.8" y="143.6" width="2.4" height="6" fill="#f2f2f2" filter="url(#b3)"/><use href="#m2" x="679.2" y="77.4" width="43.6" height="71.8" preserveAspectRatio="none"/><ellipse cx="699.5" cy="97.9" rx="2.0" ry="1.6" fill="#ddd" filter="url(#b2)"/><ellipse cx="713.5" cy="102.9" rx="2.0" ry="1.6" fill="#ddd" filter="url(#b2)"/><path d="M691.0 139.7Q689.4 145.6 683.0 146.8" stroke="#f4f4f4" stroke-width="2.1" stroke-linecap="round" fill="none" filter="url(#b3)"/><path d="M711.0 139.7Q712.6 145.6 719.0 146.8" stroke="#f4f4f4" stroke-width="2.1" stroke-linecap="round" fill="none" filter="url(#b3)"/><rect x="699.8" y="143.6" width="2.4" height="6" fill="#f2f2f2" filter="url(#b3)"/></g><clipPath id="c6"><rect x="554.2" y="152.9" width="198.5" height="70.9"/></clipPath><g clip-path="url(#c6)"><rect x="554.2" y="152.9" width="198.5" height="70.9" fill="#242424"/><rect x="554.2" y="152.9" width="33.2" height="9.5" fill="#161616"/><rect x="560.3" y="152.9" width="1.2" height="10.5" fill="#484848"/><rect x="563.7" y="152.9" width="1.2" height="10.5" fill="#484848"/><rect x="578.3" y="152.9" width="1.2" height="10.5" fill="#484848"/><rect x="581.9" y="152.9" width="1.2" height="10.5" fill="#484848"/><rect x="566.1" y="152.9" width="2.4" height="9.5" fill="#2c2c2c"/><rect x="574.5" y="152.9" width="2.4" height="9.5" fill="#2c2c2c"/><rect x="587.5" y="152.9" width="33.4" height="9.5" fill="#161616"/><rect x="592.2" y="152.9" width="1.2" height="10.5" fill="#484848"/><rect x="595.6" y="152.9" width="1.2" height="10.5" fill="#484848"/><rect x="610.2" y="152.9" width="1.2" height="10.5" fill="#484848"/><rect x="613.8" y="152.9" width="1.2" height="10.5" fill="#484848"/><rect x="598.0" y="152.9" width="2.4" height="9.5" fill="#2c2c2c"/><rect x="606.4" y="152.9" width="2.4" height="9.5" fill="#2c2c2c"/><rect x="620.9" y="152.9" width="32.7" height="9.5" fill="#161616"/><rect x="627.2" y="152.9" width="1.2" height="10.5" fill="#484848"/><rect x="630.6" y="152.9" width="1.2" height="10.5" fill="#484848"/><rect x="645.2" y="152.9" width="1.2" height="10.5" fill="#484848"/><rect x="648.8" y="152.9" width="1.2" height="10.5" fill="#484848"/><rect x="633.0" y="152.9" width="2.4" height="9.5" fill="#2c2c2c"/><rect x="641.4" y="152.9" width="2.4" height="9.5" fill="#2c2c2c"/><rect x="653.6" y="152.9" width="32.5" height="9.5" fill="#161616"/><rect x="657.6" y="152.9" width="1.2" height="10.5" fill="#484848"/><rect x="661.0" y="152.9" width="1.2" height="10.5" fill="#484848"/><rect x="675.6" y="152.9" width="1.2" height="10.5" fill="#484848"/><rect x="679.2" y="152.9" width="1.2" height="10.5" fill="#484848"/><rect x="663.4" y="152.9" width="2.4" height="9.5" fill="#2c2c2c"/><rect x="671.8" y="152.9" width="2.4" height="9.5" fill="#2c2c2c"/><rect x="686.1" y="152.9" width="35.0" height="9.5" fill="#161616"/><rect x="692.2" y="152.9" width="1.2" height="10.5" fill="#484848"/><rect x="695.6" y="152.9" width="1.2" height="10.5" fill="#484848"/><rect x="710.2" y="152.9" width="1.2" height="10.5" fill="#484848"/><rect x="713.8" y="152.9" width="1.2" height="10.5" fill="#484848"/><rect x="698.0" y="152.9" width="2.4" height="9.5" fill="#2c2c2c"/><rect x="706.4" y="152.9" width="2.4" height="9.5" fill="#2c2c2c"/><rect x="721.0" y="152.9" width="31.7" height="9.5" fill="#161616"/><rect x="727.5" y="152.9" width="1.2" height="10.5" fill="#484848"/><rect x="730.9" y="152.9" width="1.2" height="10.5" fill="#484848"/><rect x="745.5" y="152.9" width="1.2" height="10.5" fill="#484848"/><rect x="749.1" y="152.9" width="1.2" height="10.5" fill="#484848"/><rect x="733.3" y="152.9" width="2.4" height="9.5" fill="#2c2c2c"/><rect x="741.7" y="152.9" width="2.4" height="9.5" fill="#2c2c2c"/><use href="#m" x="552.8" y="152.9" width="37.3" height="70.9" preserveAspectRatio="none"/><ellipse cx="557.0" cy="177.5" rx="2.0" ry="1.6" fill="#fff" filter="url(#b2)"/><ellipse cx="575.9" cy="174.8" rx="2.0" ry="1.6" fill="#fff" filter="url(#b2)"/><path d="M562.9 214.3Q561.5 220.2 555.0 221.4" stroke="#f4f4f4" stroke-width="2.1" stroke-linecap="round" fill="none" filter="url(#b3)"/><path d="M580.1 214.3Q581.5 220.2 587.4 221.4" stroke="#f4f4f4" stroke-width="2.1" stroke-linecap="round" fill="none" filter="url(#b3)"/><rect x="570.3" y="218.2" width="2.4" height="6" fill="#f2f2f2" filter="url(#b3)"/><rect x="587.0" y="152.9" width="1" height="70.9" fill="#151515"/><rect x="588.0" y="152.9" width="0.7" height="70.9" fill="#444"/><use href="#m" x="585.2" y="152.9" width="36.4" height="70.9" preserveAspectRatio="none"/><ellipse cx="591.6" cy="183.4" rx="2.0" ry="1.6" fill="#fff" filter="url(#b2)"/><ellipse cx="609.7" cy="179.4" rx="2.0" ry="1.6" fill="#fff" filter="url(#b2)"/><path d="M595.0 214.3Q593.7 220.2 589.3 221.4" stroke="#f4f4f4" stroke-width="2.1" stroke-linecap="round" fill="none" filter="url(#b3)"/><path d="M611.8 214.3Q613.1 220.2 618.4 221.4" stroke="#f4f4f4" stroke-width="2.1" stroke-linecap="round" fill="none" filter="url(#b3)"/><rect x="602.2" y="218.2" width="2.4" height="6" fill="#f2f2f2" filter="url(#b3)"/><rect x="620.4" y="152.9" width="1" height="70.9" fill="#151515"/><rect x="621.4" y="152.9" width="0.7" height="70.9" fill="#444"/><use href="#m" x="620.6" y="152.9" width="35.7" height="70.9" preserveAspectRatio="none"/><ellipse cx="634.0" cy="175.4" rx="2.0" ry="1.6" fill="#fff" filter="url(#b2)"/><ellipse cx="650.5" cy="175.9" rx="2.0" ry="1.6" fill="#fff" filter="url(#b2)"/><path d="M630.2 214.3Q628.9 220.2 624.4 221.4" stroke="#f4f4f4" stroke-width="2.1" stroke-linecap="round" fill="none" filter="url(#b3)"/><path d="M646.6 214.3Q647.9 220.2 651.5 221.4" stroke="#f4f4f4" stroke-width="2.1" stroke-linecap="round" fill="none" filter="url(#b3)"/><rect x="637.2" y="218.2" width="2.4" height="6" fill="#f2f2f2" filter="url(#b3)"/><rect x="653.1" y="152.9" width="1" height="70.9" fill="#151515"/><rect x="654.1" y="152.9" width="0.7" height="70.9" fill="#444"/><use href="#m" x="650.8" y="152.9" width="35.9" height="70.9" preserveAspectRatio="none"/><ellipse cx="658.6" cy="179.0" rx="2.0" ry="1.6" fill="#fff" filter="url(#b2)"/><ellipse cx="672.4" cy="178.3" rx="2.0" ry="1.6" fill="#fff" filter="url(#b2)"/><path d="M660.5 214.3Q659.2 220.2 656.0 221.4" stroke="#f4f4f4" stroke-width="2.1" stroke-linecap="round" fill="none" filter="url(#b3)"/><path d="M677.1 214.3Q678.4 220.2 683.9 221.4" stroke="#f4f4f4" stroke-width="2.1" stroke-linecap="round" fill="none" filter="url(#b3)"/><rect x="667.6" y="218.2" width="2.4" height="6" fill="#f2f2f2" filter="url(#b3)"/><rect x="685.6" y="152.9" width="1" height="70.9" fill="#151515"/><rect x="686.6" y="152.9" width="0.7" height="70.9" fill="#444"/><use href="#m" x="685.4" y="152.9" width="36.0" height="70.9" preserveAspectRatio="none"/><ellipse cx="695.5" cy="178.3" rx="2.0" ry="1.6" fill="#fff" filter="url(#b2)"/><ellipse cx="713.6" cy="180.6" rx="2.0" ry="1.6" fill="#fff" filter="url(#b2)"/><path d="M695.1 214.3Q693.8 220.2 689.9 221.4" stroke="#f4f4f4" stroke-width="2.1" stroke-linecap="round" fill="none" filter="url(#b3)"/><path d="M711.7 214.3Q713.0 220.2 717.3 221.4" stroke="#f4f4f4" stroke-width="2.1" stroke-linecap="round" fill="none" filter="url(#b3)"/><rect x="702.2" y="218.2" width="2.4" height="6" fill="#f2f2f2" filter="url(#b3)"/><rect x="720.5" y="152.9" width="1" height="70.9" fill="#151515"/><rect x="721.5" y="152.9" width="0.7" height="70.9" fill="#444"/><use href="#m" x="719.7" y="152.9" width="37.9" height="70.9" preserveAspectRatio="none"/><ellipse cx="726.9" cy="169.6" rx="2.0" ry="1.6" fill="#fff" filter="url(#b2)"/><ellipse cx="745.0" cy="178.3" rx="2.0" ry="1.6" fill="#fff" filter="url(#b2)"/><path d="M730.0 214.3Q728.6 220.2 725.1 221.4" stroke="#f4f4f4" stroke-width="2.1" stroke-linecap="round" fill="none" filter="url(#b3)"/><path d="M747.4 214.3Q748.8 220.2 753.6 221.4" stroke="#f4f4f4" stroke-width="2.1" stroke-linecap="round" fill="none" filter="url(#b3)"/><rect x="737.5" y="218.2" width="2.4" height="6" fill="#f2f2f2" filter="url(#b3)"/></g><g opacity="0.13"><rect x="152.0" y="77.4" width="197.8" height="71.8" filter="url(#nz)"/><rect x="152.0" y="152.9" width="197.8" height="70.9" filter="url(#nz)"/><rect x="353.2" y="77.4" width="198.0" height="71.8" filter="url(#nz)"/><rect x="353.2" y="152.9" width="198.0" height="70.9" filter="url(#nz)"/><rect x="554.2" y="77.4" width="198.5" height="71.8" filter="url(#nz)"/><rect x="554.2" y="152.9" width="198.5" height="70.9" filter="url(#nz)"/></g><g opacity="0.25"><rect x="152.0" y="77.4" width="197.8" height="71.8" filter="url(#nd)"/><rect x="152.0" y="152.9" width="197.8" height="70.9" filter="url(#nd)"/><rect x="353.2" y="77.4" width="198.0" height="71.8" filter="url(#nd)"/><rect x="353.2" y="152.9" width="198.0" height="70.9" filter="url(#nd)"/><rect x="554.2" y="77.4" width="198.5" height="71.8" filter="url(#nd)"/><rect x="554.2" y="152.9" width="198.5" height="70.9" filter="url(#nd)"/></g><g fill="#4636b2" filter="url(#bb)"><ellipse cx="355.5" cy="103.6" rx="1.0" ry="1.0" transform="rotate(0 355.5 103.6)"/><ellipse cx="360.2" cy="108.2" rx="1.1" ry="1.0" transform="rotate(0 360.2 108.2)"/><ellipse cx="392.2" cy="103.2" rx="2.6" ry="2.2" transform="rotate(-20 392.2 103.2)"/><ellipse cx="398.7" cy="105.0" rx="0.7" ry="0.7" transform="rotate(0 398.7 105.0)"/><ellipse cx="403.4" cy="110.1" rx="0.9" ry="0.9" transform="rotate(0 403.4 110.1)"/><ellipse cx="439.5" cy="111.4" rx="2.1" ry="1.6" transform="rotate(20 439.5 111.4)"/><ellipse cx="460.7" cy="103.8" rx="1.6" ry="1.5" transform="rotate(0 460.7 103.8)"/><ellipse cx="469.8" cy="110.9" rx="1.4" ry="1.3" transform="rotate(0 469.8 110.9)"/><ellipse cx="467.0" cy="104.5" rx="0.7" ry="0.7" transform="rotate(0 467.0 104.5)"/><ellipse cx="497.9" cy="101.0" rx="1.6" ry="1.5" transform="rotate(0 497.9 101.0)"/><ellipse cx="495.2" cy="107.4" rx="2.0" ry="1.8" transform="rotate(0 495.2 107.4)"/><ellipse cx="503.4" cy="106.7" rx="3.3" ry="2.6" transform="rotate(0 503.4 106.7)"/><ellipse cx="505.6" cy="103.2" rx="1.5" ry="1.4" transform="rotate(0 505.6 103.2)"/><ellipse cx="499.5" cy="104.5" rx="1.2" ry="1.4" transform="rotate(0 499.5 104.5)"/><ellipse cx="537.2" cy="107.6" rx="2.2" ry="1.9" transform="rotate(0 537.2 107.6)"/><ellipse cx="542.3" cy="107.4" rx="2.2" ry="1.9" transform="rotate(0 542.3 107.4)"/><ellipse cx="539.7" cy="106.3" rx="2.2" ry="1.3" transform="rotate(0 539.7 106.3)"/><ellipse cx="379.0" cy="169.6" rx="1.8" ry="1.2" transform="rotate(-25 379.0 169.6)"/><ellipse cx="570.9" cy="103.8" rx="5.7" ry="5.8" transform="rotate(0 570.9 103.8)"/><ellipse cx="636.5" cy="105.8" rx="7.2" ry="3.6" transform="rotate(8 636.5 105.8)"/><ellipse cx="632.5" cy="106.5" rx="3.6" ry="3.2" transform="rotate(0 632.5 106.5)"/><ellipse cx="640.5" cy="108.2" rx="2.5" ry="2.2" transform="rotate(0 640.5 108.2)"/><ellipse cx="700.5" cy="107.0" rx="10.5" ry="8.5" transform="rotate(0 700.5 107.0)"/><ellipse cx="694.5" cy="111.5" rx="5.0" ry="4.5" transform="rotate(0 694.5 111.5)"/><ellipse cx="702.5" cy="114.5" rx="4.0" ry="4.0" transform="rotate(0 702.5 114.5)"/><ellipse cx="663.5" cy="183.0" rx="4.8" ry="3.2" transform="rotate(30 663.5 183.0)"/><ellipse cx="661.5" cy="181.5" rx="2.6" ry="2.8" transform="rotate(0 661.5 181.5)"/><ellipse cx="702.6" cy="185.2" rx="4.2" ry="1.7" transform="rotate(15 702.6 185.2)"/><ellipse cx="700.0" cy="184.3" rx="2.0" ry="1.7" transform="rotate(0 700.0 184.3)"/><ellipse cx="732.4" cy="180.2" rx="3.2" ry="3.8" transform="rotate(10 732.4 180.2)"/><ellipse cx="185.2" cy="88.6" rx="0.5" ry="0.5" transform="rotate(0 185.2 88.6)"/></g><g fill="#2a3cbc" filter="url(#b2)"><ellipse cx="570.9" cy="103.8" rx="3.6" ry="3.8" transform="rotate(0 570.9 103.8)"/><ellipse cx="636.5" cy="105.6" rx="4.8" ry="2.0" transform="rotate(8 636.5 105.6)"/><ellipse cx="700.5" cy="107.0" rx="8.0" ry="6.3" transform="rotate(0 700.5 107.0)"/><ellipse cx="663.5" cy="183.0" rx="3.0" ry="1.8" transform="rotate(30 663.5 183.0)"/><ellipse cx="732.4" cy="180.2" rx="1.8" ry="2.3" transform="rotate(10 732.4 180.2)"/><ellipse cx="503.4" cy="106.7" rx="2.0" ry="1.5" transform="rotate(0 503.4 106.7)"/><ellipse cx="392.2" cy="103.2" rx="1.4" ry="1.1" transform="rotate(-20 392.2 103.2)"/></g><rect x="760.7" y="78.1" width="5" height="144.4" fill="url(#cb)"/><path d="M765.7 78.1h2.2M765.7 87.1h1.2M765.7 96.1h1.2M765.7 105.0h1.2M765.7 114.0h2.2M765.7 123.0h1.2M765.7 132.0h1.2M765.7 141.0h1.2M765.7 149.9h2.2M765.7 158.9h1.2M765.7 167.9h1.2M765.7 176.9h1.2M765.7 185.9h2.2M765.7 194.8h1.2M765.7 203.8h1.2M765.7 212.8h1.2M765.7 221.8h2.2" stroke="#555" stroke-width="0.5" fill="none"/><g font-family="Liberation Sans, sans-serif" font-size="5.2" fill="#2a2a2a"><text x="767.8" y="78.6" textLength="5.6" lengthAdjust="spacingAndGlyphs">2.0</text><text x="767.8" y="115.3" textLength="5.6" lengthAdjust="spacingAndGlyphs">1.5</text><text x="767.8" y="151.9" textLength="5.6" lengthAdjust="spacingAndGlyphs">1.0</text><text x="767.8" y="188.3" textLength="5.6" lengthAdjust="spacingAndGlyphs">0.5</text><text x="777.6" y="151.2" textLength="7" lengthAdjust="spacingAndGlyphs" font-size="4.6">x10<tspan dy="-2" font-size="3.6">6</tspan></text></g><g font-family="Liberation Mono, monospace" font-size="4.2" font-weight="700" fill="#111"><text x="762" y="229.3" textLength="14.8" lengthAdjust="spacingAndGlyphs">Radiance</text><text x="762" y="233.9" textLength="25.4" lengthAdjust="spacingAndGlyphs">(p/sec/cm²/sr)</text><text x="762" y="243" textLength="20" lengthAdjust="spacingAndGlyphs">Color Scale</text><text x="762" y="247.6" textLength="21.8" lengthAdjust="spacingAndGlyphs">Min = 2.00e4</text><text x="762" y="252.2" textLength="21.8" lengthAdjust="spacingAndGlyphs">Max = 2.00e6</text></g><rect x="760.6" y="236.3" width="25.4" height="18.8" fill="none" stroke="#777" stroke-width="0.6"/></svg>

<div class="abs t12 b" style="left:343px;top:58px;">LLC1, IV, Lung Orthotopic</div>
<div class="abs t12" style="left:9.5px;top:102px;">Group 1 Vehicle</div>
<div class="abs t12" style="left:10px;top:176px;">Group 2 TA, 1x10<sup style="font-size:7px;line-height:0;vertical-align:4px">13</sup> μg/kg,</div>
<div class="abs t12" style="left:10px;top:193px;">IV, Q2D×10</div>
<div class="abs t12" style="left:239px;top:233px;font-size:11.9px">Day 17</div>
<div class="abs t12" style="left:443px;top:233px;font-size:11.9px">Day 24</div>
<div class="abs t12" style="left:643px;top:233px;font-size:11.9px">Day 31</div>

<div class="abs t12 b" style="left:57.4px;top:269px;">Survival proportions: LLC1 Syngeneic Model</div>

<svg class="abs" style="left:0;top:259px" width="420" height="238" viewBox="0 259 420 238">
<g stroke="#111" stroke-width="1.6" fill="none">
<path d="M58.8 284.5V456.9H316.8"/>
<path d="M53.2 456.9H58.8M53.2 378.9H58.8M53.2 300.9H58.8M58.8 456.9V462.4M110.3 456.9V462.4M161.8 456.9V462.4M213.3 456.9V462.4M264.8 456.9V462.4M316.3 456.9V462.4"/>
</g>
<path d="M58.8 300.9H141.2V326.9H148.9V352.9H164.4V378.9H179.8V404.9H197.9V430.9H257.1V456.9" fill="none" stroke="#e81c2c" stroke-width="1.6"/>
<path d="M58.8 300.9H136.1V326.9H138.6V378.9H141.2V404.9H146.4V430.9H148.9V456.9" fill="none" stroke="#1f4ea8" stroke-width="1.6"/>
<path d="M162.8 318.5H182.5M172.8 318.5V314.4" fill="none" stroke="#1f4ea8" stroke-width="1.6"/>
<path d="M162.8 334.2H182.5M172.8 334.2V330.1" fill="none" stroke="#e81c2c" stroke-width="1.6"/>
<g font-family="Liberation Sans, sans-serif" font-weight="700" font-size="7.5" fill="#1c1c1c">
<text x="50.5" y="459.6" text-anchor="end">0</text>
<text x="50.5" y="381.6" text-anchor="end">50</text>
<text x="50.5" y="303.6" text-anchor="end">100</text>
<text x="57.6" y="472.6" text-anchor="middle">0</text>
<text x="109.1" y="472.6" text-anchor="middle">20</text>
<text x="160.6" y="472.6" text-anchor="middle">40</text>
<text x="212.1" y="472.6" text-anchor="middle">60</text>
<text x="263.6" y="472.6" text-anchor="middle">80</text>
<text x="315.1" y="472.6" text-anchor="middle">100</text>
</g>
<g font-family="Liberation Sans, sans-serif" font-size="12" fill="#1c1c1c">
<text x="135.3" y="487.5" font-size="11.9">Days Post Inoculation</text>
<text transform="translate(35.2 374.5) rotate(-90)" text-anchor="middle">Percent survival</text>
<text x="192.8" y="321.8">Group 1 Vehicle(PBS) , IV, QD×1</text>
<text x="192.8" y="337.4" xml:space="preserve">Group 2 TA,  1x10<tspan font-size="7" dy="-4">13</tspan><tspan dy="4"> μg/kg, IV, QD×1</tspan></text>
</g>
</svg>

<svg class="abs" style="left:440px;top:280px" width="30" height="180" viewBox="440 280 30 180"><g fill="#333"><circle cx="454.3" cy="298.1" r="2.5"/><circle cx="454.3" cy="345.1" r="2.5"/><circle cx="454.3" cy="396.2" r="2.5"/><circle cx="454.3" cy="444.4" r="2.5"/></g></svg>
<div class="abs r b" style="left:473px;top:291px;">Animals:</div>
<div class="abs r" style="left:473px;top:307px;">Female C57BL/6 mice</div>
<div class="abs r b" style="left:473px;top:339px;">Tumor Cells:</div>
<div class="abs r" style="left:473px;top:355px;">LLC1, 1x10<sup style="font-size:8.5px;line-height:0;vertical-align:5px">5</sup>/mouse</div>
<div class="abs r b" style="left:473px;top:388px;">Model Establishment:</div>
<div class="abs r" style="left:473px;top:404px;">IV injection</div>
<div class="abs r b" style="left:473px;top:436.5px;">Treatment:</div>
<div class="abs r" style="left:473px;top:452px;"><b style="color:#2a4ba6">IV injection</b> 10 days before tumor inoculation</div>
</body></html>
